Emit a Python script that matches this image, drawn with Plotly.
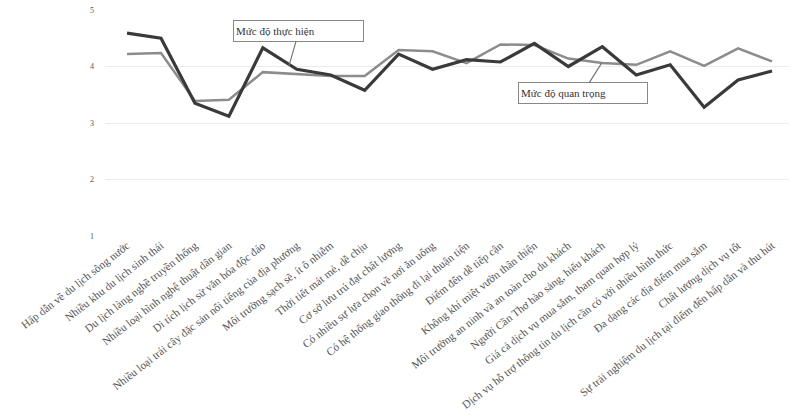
import plotly.graph_objects as go

categories = [
    "Hấp dẫn về du lịch sông nước",
    "Nhiều khu du lịch sinh thái",
    "Du lịch làng nghề truyền thống",
    "Nhiều loại hình nghệ thuật dân gian",
    "Di tích lịch sử văn hóa độc đáo",
    "Nhiều loại trái cây đặc sản nổi tiếng của địa phương",
    "Môi trường sạch sẽ, ít ô nhiễm",
    "Thời tiết mát mẻ, dễ chịu",
    "Cơ sở lưu trú đạt chất lượng",
    "Có nhiều sự lựa chọn về nơi ăn uống",
    "Có hệ thống giao thông đi lại thuận tiện",
    "Điểm đến dễ tiếp cận",
    "Không khí miệt vườn thân thiện",
    "Môi trường an ninh và an toàn cho du khách",
    "Người Cần Thơ hào sảng, hiếu khách",
    "Giá cả dịch vụ mua sắm, tham quan hợp lý",
    "Dịch vụ hỗ trợ thông tin du lịch cần có với nhiều hình thức",
    "Đa dạng các địa điểm mua sắm",
    "Chất lượng dịch vụ tốt",
    "Sự trải nghiệm du lịch tại điểm đến hấp dẫn và thu hút",
]

muc_do_thuc_hien = [4.59, 4.50, 3.35, 3.12, 4.33, 3.95, 3.85, 3.58, 4.22, 3.95,
                    4.12, 4.08, 4.41, 4.00, 4.35, 3.85, 4.03, 3.28, 3.76, 3.92]
muc_do_quan_trong = [4.22, 4.24, 3.39, 3.41, 3.90, 3.87, 3.83, 3.83, 4.29, 4.27,
                     4.06, 4.39, 4.38, 4.14, 4.06, 4.03, 4.27, 4.01, 4.32, 4.09]

y_ticks = [1, 2, 3, 4, 5]

serif = "Liberation Serif, Times New Roman, serif"

fig = go.Figure()
fig.add_trace(go.Scatter(x=categories, y=muc_do_quan_trong, mode="lines",
                         name="Mức độ quan trọng",
                         line=dict(color="#8c8c8c", width=2.5)))
fig.add_trace(go.Scatter(x=categories, y=muc_do_thuc_hien, mode="lines",
                         name="Mức độ thực hiện",
                         line=dict(color="#3a3a3a", width=3.2)))

fig.add_annotation(x=4.77, y=4.01, xref="x", yref="y", text="Mức độ thực hiện",
                   showarrow=True, arrowhead=0, arrowwidth=1.2, arrowcolor="#777",
                   ax=10, ay=-35, width=125, height=16, borderpad=2, align="left",
                   bordercolor="#888", borderwidth=1, bgcolor="white",
                   font=dict(family=serif, size=11, color="#333"))
fig.add_annotation(x=13.98, y=4.06, xref="x", yref="y", text="Mức độ quan trọng",
                   showarrow=True, arrowhead=0, arrowwidth=1.2, arrowcolor="#777",
                   ax=-19, ay=30, width=124, height=16, borderpad=2, align="left",
                   bordercolor="#888", borderwidth=1, bgcolor="white",
                   font=dict(family=serif, size=11, color="#333"))

fig.update_layout(
    width=798, height=416,
    margin=dict(l=105, r=9, t=10, b=180),
    paper_bgcolor="white", plot_bgcolor="white",
    showlegend=False,
    font=dict(family=serif, color="#555"),
)
fig.update_xaxes(tickangle=-38, tickfont=dict(family=serif, size=11.2, color="#555"),
                 showgrid=False, showline=False, ticks="", range=[-0.65, 19.5],
                 automargin=False)
fig.update_yaxes(range=[1, 5], tickvals=y_ticks, showgrid=True, gridcolor="#ececec",
                 gridwidth=1, zeroline=False, showline=False, ticks="",
                 ticklabelstandoff=10, automargin=False,
                 tickfont=dict(family=serif, size=8, color="#555"))

fig.write_html("out.html")
